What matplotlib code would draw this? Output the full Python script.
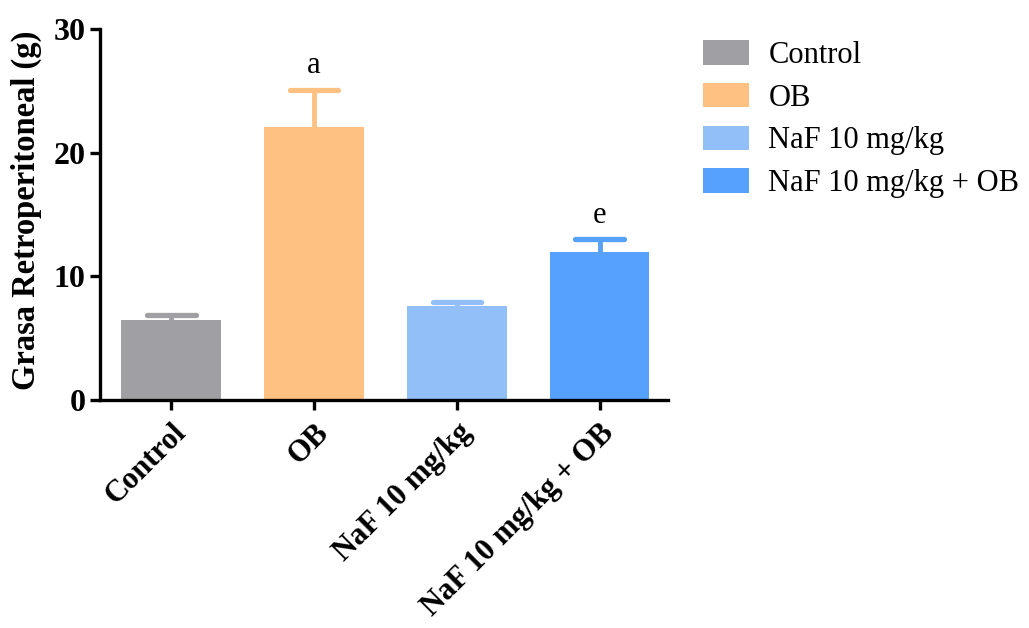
import matplotlib
matplotlib.use("Agg")
import matplotlib.pyplot as plt
from matplotlib.patches import Patch
import numpy as np

groups = ["Control", "OB", "NaF 10 mg/kg", "NaF 10 mg/kg + OB"]
means = [6.45, 22.1, 7.6, 12.0]
sems = [0.45, 3.0, 0.35, 1.0]
letters = ["", "a", "", "e"]
colors = ["#a0a0a4", "#ffc182", "#92bff8", "#55a1fb"]

plt.rcParams["font.family"] = ["Liberation Serif", "DejaVu Serif"]

fig = plt.figure(figsize=(10.29, 6.28), dpi=100)
ax = fig.add_axes([0.0972, 0.363, 0.552, 0.591])

x = np.arange(len(groups))
ax.bar(x, means, width=0.7, color=colors, zorder=2)

# upper-only SEM bars with a cap at the top
cap_half = 0.17
for xi, m, s, c, lab in zip(x, means, sems, colors, letters):
    ax.plot([xi, xi], [m, m + s], color=c, lw=3.5, zorder=1,
            solid_capstyle="butt")
    ax.plot([xi - cap_half, xi + cap_half], [m + s, m + s], color=c, lw=3.8,
            zorder=1, solid_capstyle="round")
    if lab:
        ax.text(xi, m + s + 0.75, lab, ha="center", va="bottom", fontsize=22)

ax.set_xlim(-0.5, 3.48)
ax.set_ylim(0, 30)
ax.set_yticks([0, 10, 20, 30])
ax.set_xticks(x)
ax.set_xticklabels(groups, rotation=45, ha="right", rotation_mode="anchor",
                   fontsize=22, fontweight="bold")
for t in ax.get_yticklabels():
    t.set_fontsize(23)
    t.set_fontweight("bold")
ax.set_ylabel("Grasa Retroperitoneal (g)", fontsize=23.5, fontweight="bold")
ax.yaxis.set_label_coords(-0.102, 0.51)

for side in ["top", "right"]:
    ax.spines[side].set_visible(False)
for side in ["left", "bottom"]:
    ax.spines[side].set_linewidth(2.4)
ax.tick_params(axis="both", width=2.4, length=7, direction="out")
ax.tick_params(axis="x", pad=6)

handles = [Patch(facecolor=c, edgecolor="none", label=g) for c, g in zip(colors, groups)]
fig.legend(handles=handles, loc="upper left", bbox_to_anchor=(0.671, 0.955),
           borderaxespad=0, frameon=False, fontsize=22, handlelength=1.5,
           handleheight=0.85, labelspacing=0.42, handletextpad=0.65)

fig.savefig("out.png", dpi=100)
